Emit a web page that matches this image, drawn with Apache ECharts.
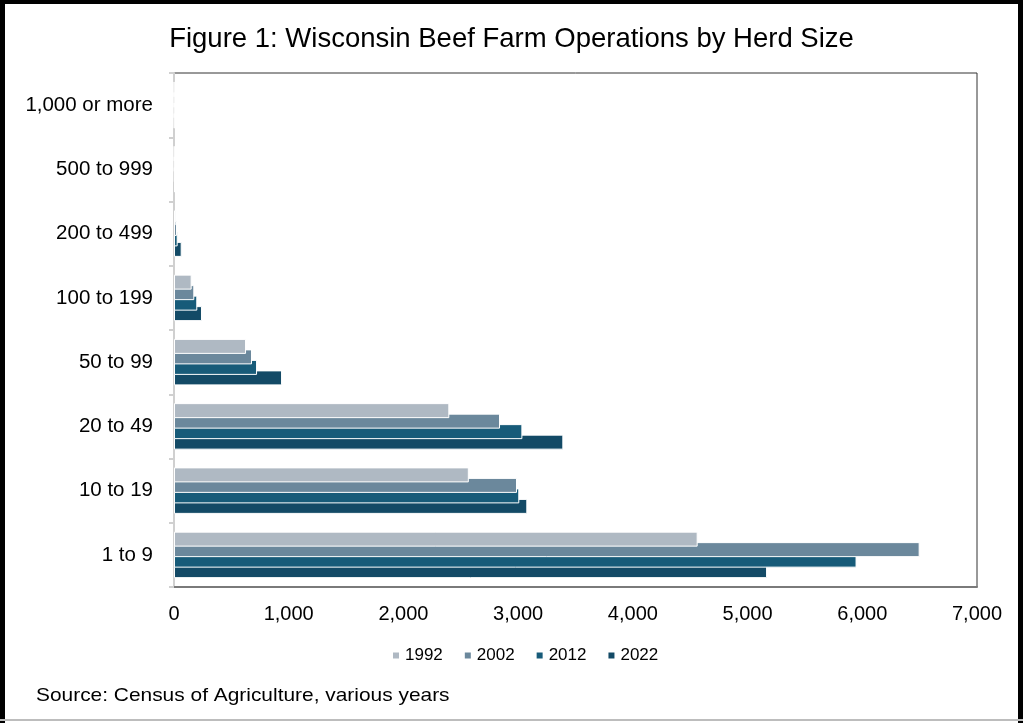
<!DOCTYPE html>
<html>
<head>
<meta charset="utf-8">
<script src="https://cdn.jsdelivr.net/npm/echarts@6/dist/echarts.min.js"></script>
<style>
html,body{margin:0;padding:0;background:#fff;}
#chart{width:1023px;height:723px;}
</style>
</head>
<body>
<div id="chart"></div>
<script>
const categories = ['1 to 9', '10 to 19', '20 to 49', '50 to 99', '100 to 199', '200 to 499', '500 to 999', '1,000 or more'];
const years = ['1992', '2002', '2012', '2022'];
const values1992 = [4565, 2570, 2400, 628, 154, 15, 3, 1];
const values2002 = [6500, 2990, 2842, 680, 177, 26, 4, 1];
const values2012 = [5950, 3010, 3037, 724, 203, 32, 6, 2];
const values2022 = [5170, 3080, 3394, 942, 244, 67, 10, 3];
const colors = ['#afb9c3', '#6b889c', '#175b79', '#134a66'];
const seriesValues = [values1992, values2002, values2012, values2022];

const chart = echarts.init(document.getElementById('chart'));
const fmt = v => v.toLocaleString('en-US');

chart.setOption({
  animation: false,
  title: {
    text: 'Figure 1: Wisconsin Beef Farm Operations by Herd Size',
    left: 'center',
    top: 20,
    textStyle: {fontFamily: '"Liberation Sans", Arial, sans-serif', fontSize: 27.5, fontWeight: 'normal', color: '#000'}
  },
  legend: {
    data: years,
    bottom: 54,
    left: 386,
    icon: 'rect',
    itemWidth: 8,
    itemHeight: 8,
    itemGap: 20,
    textStyle: {fontFamily: '"Liberation Sans", Arial, sans-serif', fontSize: 17, color: '#000'}
  },
  grid: {left: 174, right: 46, top: 73, bottom: 136, show: true, borderColor: '#333', borderWidth: 1, containLabel: false},
  xAxis: {
    type: 'value',
    min: 0, max: 7000, interval: 1000,
    axisLine: {show: true, lineStyle: {color: '#7a7a7a', width: 2}},
    axisTick: {show: false},
    splitLine: {show: false},
    axisLabel: {formatter: fmt, fontFamily: '"Liberation Sans", Arial, sans-serif', fontSize: 20, color: '#000', margin: 17}
  },
  yAxis: {
    type: 'category',
    data: categories,
    axisLine: {show: true, lineStyle: {color: '#d0d0d0', width: 2}},
    axisTick: {show: true, length: 5, lineStyle: {color: '#d0d0d0', width: 2}},
    axisLabel: {fontFamily: '"Liberation Sans", Arial, sans-serif', fontSize: 20.5, color: '#000', margin: 21}
  },
  series: years.map((y, i) => ({
    name: y,
    type: 'bar',
    data: seriesValues[i],
    barWidth: 15,
    barGap: '-30%',
    z: 10 - i,
    itemStyle: {color: colors[i], borderColor: '#fff', borderWidth: 1}
  })),
  graphic: [
    {type: 'rect', shape: {x: 0, y: 0, width: 5, height: 723}, style: {fill: '#000'}},
    {type: 'rect', shape: {x: 0, y: 0, width: 1023, height: 4}, style: {fill: '#000'}},
    {type: 'rect', shape: {x: 1018, y: 0, width: 5, height: 723}, style: {fill: '#000'}},
    {type: 'rect', shape: {x: 0, y: 719, width: 1023, height: 2}, style: {fill: '#bdbdbd'}},
    {type: 'text', x: 36, y: 686, scaleX: 1.1, style: {text: 'Source: Census of Agriculture, various years', fontFamily: '"Liberation Sans", Arial, sans-serif', fontSize: 19, fill: '#000'}}
  ]
});
</script>
</body>
</html>
